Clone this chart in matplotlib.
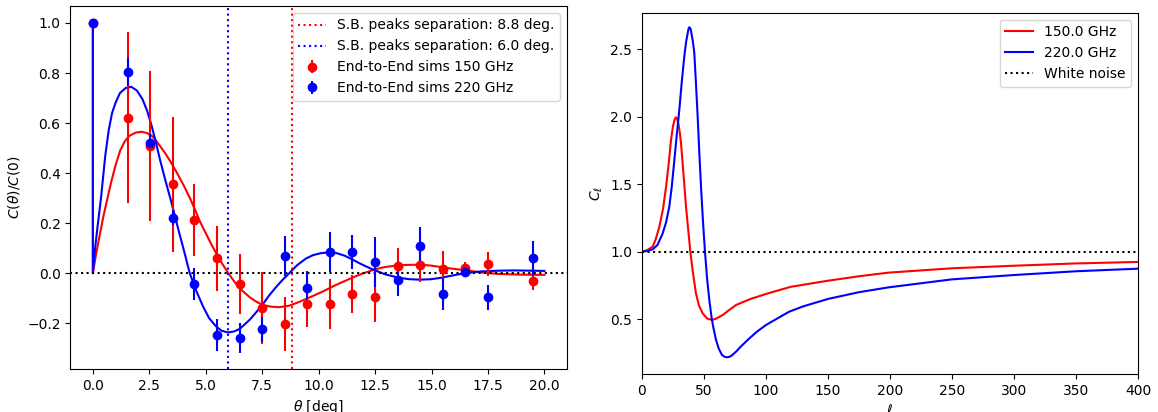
import matplotlib
matplotlib.use("Agg")
import matplotlib.pyplot as plt

# ---- left panel: correlation function ----
theta_pts = [0, 1.57, 2.55, 3.55, 4.5, 5.5, 6.5, 7.5, 8.5, 9.5, 10.5, 11.5, 12.5,
             13.5, 14.5, 15.5, 16.5, 17.5, 19.5]

c150 = [1.0, 0.622, 0.509, 0.356, 0.212, 0.06, -0.043, -0.14, -0.203, -0.123, -0.123,
        -0.083, -0.096, 0.029, 0.033, 0.017, 0.02, 0.035, -0.033]
err150 = [0.0, 0.34, 0.30, 0.27, 0.143, 0.13, 0.12, 0.143, 0.107, 0.093, 0.10,
          0.075, 0.10, 0.07, 0.07, 0.07, 0.025, 0.048, 0.035]

c220 = [1.0, 0.805, 0.522, 0.222, -0.043, -0.248, -0.261, -0.224, 0.069, -0.06, 0.083,
        0.083, 0.043, -0.027, 0.109, -0.083, 0.003, -0.096, 0.06]
err220 = [0.0, 0.055, 0.035, 0.03, 0.065, 0.065, 0.06, 0.05, 0.08, 0.07, 0.08,
          0.068, 0.10, 0.065, 0.077, 0.063, 0.01, 0.05, 0.07]

# model curves
theta_red = [0, 0, 0.15, 0.3, 0.45, 0.63, 0.8, 1.0, 1.21, 1.4, 1.6, 1.9, 2.17, 2.4, 2.6,
             2.8, 3.0, 3.2, 3.41, 3.7, 4.0, 4.3, 4.52, 4.75, 5.0, 5.25, 5.46, 5.75, 6.04,
             6.3, 6.5, 6.93, 7.2, 7.52, 7.9, 8.25, 8.7, 9.14, 9.6, 10.17, 10.7, 11.34,
             11.9, 12.45, 12.9, 13.4, 13.9, 14.5, 15.0, 15.45, 16.0, 16.48, 17.2, 17.95,
             19.0, 20.0]
model_red = [1.0, 0.0, 0.08, 0.15, 0.22, 0.293, 0.36, 0.43, 0.49, 0.525, 0.548, 0.562,
             0.565, 0.56, 0.55, 0.53, 0.505, 0.48, 0.45, 0.405, 0.355, 0.30, 0.255, 0.205,
             0.16, 0.115, 0.08, 0.035, -0.005, -0.038, -0.06, -0.095, -0.112, -0.127,
             -0.134, -0.136, -0.13, -0.115, -0.097, -0.074, -0.05, -0.024, -0.003, 0.014,
             0.024, 0.030, 0.033, 0.034, 0.03, 0.024, 0.017, 0.012, 0.003, -0.003, -0.006,
             -0.007]

theta_blue = [0, 0, 0.1, 0.2, 0.36, 0.55, 0.7, 0.85, 1.0, 1.2, 1.45, 1.7, 1.95, 2.2, 2.4,
              2.6, 2.8, 2.97, 3.2, 3.41, 3.56, 3.8, 4.05, 4.29, 4.6, 4.88, 5.15, 5.46, 5.7,
              5.98, 6.25, 6.5, 6.94, 7.2, 7.52, 7.8, 8.1, 8.4, 8.7, 9.05, 9.43, 9.75, 10.1,
              10.46, 10.8, 11.15, 11.49, 11.8, 12.1, 12.45, 12.96, 13.55, 14.0, 14.5, 15.0,
              15.45, 16.0, 16.48, 17.2, 18.0, 18.67, 20.0]
model_blue = [1.0, 0.0, 0.1, 0.18, 0.30, 0.47, 0.57, 0.64, 0.68, 0.72, 0.74, 0.745, 0.73,
              0.695, 0.65, 0.59, 0.52, 0.455, 0.375, 0.306, 0.255, 0.17, 0.085, 0.0, -0.075,
              -0.133, -0.18, -0.213, -0.23, -0.237, -0.233, -0.223, -0.187, -0.16, -0.125,
              -0.09, -0.057, -0.027, 0.0, 0.032, 0.058, 0.072, 0.08, 0.083, 0.08, 0.07,
              0.055, 0.04, 0.027, 0.013, -0.005, -0.018, -0.024, -0.026, -0.024, -0.018,
              -0.008, 0.0, 0.007, 0.01, 0.011, 0.009]

sep150 = 8.8
sep220 = 6.0

# ---- right panel: power spectra ----
ell_red = [0, 4, 8.6, 11, 14, 17, 19.4, 21.5, 23.4, 25, 26.3, 27.4, 28.5, 29.5, 30.5,
           31.5, 33.5, 35.5, 37.3, 39, 41, 43.5, 46, 48.9, 52.5, 56.5, 60, 65.1, 70,
           75.8, 87, 100, 120, 150, 175, 199, 250, 300, 350, 400]
cl_red = [1.0, 1.01, 1.037, 1.09, 1.185, 1.32, 1.48, 1.65, 1.827, 1.93, 1.98, 1.995,
          1.98, 1.94, 1.88, 1.8, 1.57, 1.333, 1.16, 1.0, 0.85, 0.692, 0.6, 0.544, 0.505,
          0.494, 0.505, 0.531, 0.566, 0.605, 0.648, 0.687, 0.74, 0.785, 0.818, 0.845,
          0.877, 0.896, 0.913, 0.924]

ell_blue = [0, 4, 8.6, 12.5, 16.7, 19.5, 22, 24, 26.1, 28, 30.1, 32, 34.1, 35.5, 36.5,
            37.5, 38.2, 39.2, 40, 41, 42.2, 43.5, 44.9, 46.2, 47.6, 49.2, 50.8, 52.5,
            54.3, 56, 57.5, 59.7, 62, 64.5, 66.5, 68.3, 70, 72, 75.8, 80, 86.6, 93, 100,
            110, 118.8, 130, 150, 175, 199, 250, 300, 350, 400]
cl_blue = [1.0, 1.005, 1.017, 1.05, 1.136, 1.22, 1.333, 1.48, 1.679, 1.86, 2.05, 2.25,
           2.444, 2.55, 2.6, 2.65, 2.662, 2.65, 2.61, 2.56, 2.47, 2.25, 2.0, 1.74, 1.48,
           1.22, 1.0, 0.8, 0.642, 0.52, 0.44, 0.346, 0.28, 0.235, 0.222, 0.218, 0.22,
           0.228, 0.259, 0.3, 0.358, 0.41, 0.457, 0.51, 0.556, 0.595, 0.65, 0.7, 0.736,
           0.795, 0.827, 0.855, 0.874]


fig = plt.figure(figsize=(11.58, 4.12), dpi=100)

# Left
ax1 = fig.add_axes([0.0607, 0.1044, 0.4289, 0.8811])
ax1.plot(theta_red, model_red, color='r')
ax1.plot(theta_blue, model_blue, color='b')
ax1.axhline(0, color='k', ls=':')
ax1.axvline(sep150, color='r', ls=':', label='S.B. peaks separation: %.1f deg.' % sep150)
ax1.axvline(sep220, color='b', ls=':', label='S.B. peaks separation: %.1f deg.' % sep220)
ax1.errorbar(theta_pts, c150, yerr=err150, fmt='o', color='r', label='End-to-End sims 150 GHz')
ax1.errorbar(theta_pts, c220, yerr=err220, fmt='o', color='b', label='End-to-End sims 220 GHz')
ax1.set_xlim(-1, 21)
ax1.set_ylim(-0.383, 1.068)
ax1.set_xlabel(r'$\theta$ [deg]')
ax1.set_ylabel(r'$C(\theta)/C(0)$')
ax1.legend(loc='upper right')

# Right
ax2 = fig.add_axes([0.5544, 0.0922, 0.4283, 0.8770])
ax2.plot(ell_red, cl_red, color='r', label='150.0 GHz')
ax2.plot(ell_blue, cl_blue, color='b', label='220.0 GHz')
ax2.axhline(1, color='k', ls=':', label='White noise')
ax2.set_xlim(0, 400)
ax2.set_ylim(0.094, 2.77)
ax2.set_xlabel(r'$\ell$')
ax2.set_ylabel(r'$C_\ell$')
ax2.legend(loc='upper right')

plt.savefig('out.png', dpi=100)
